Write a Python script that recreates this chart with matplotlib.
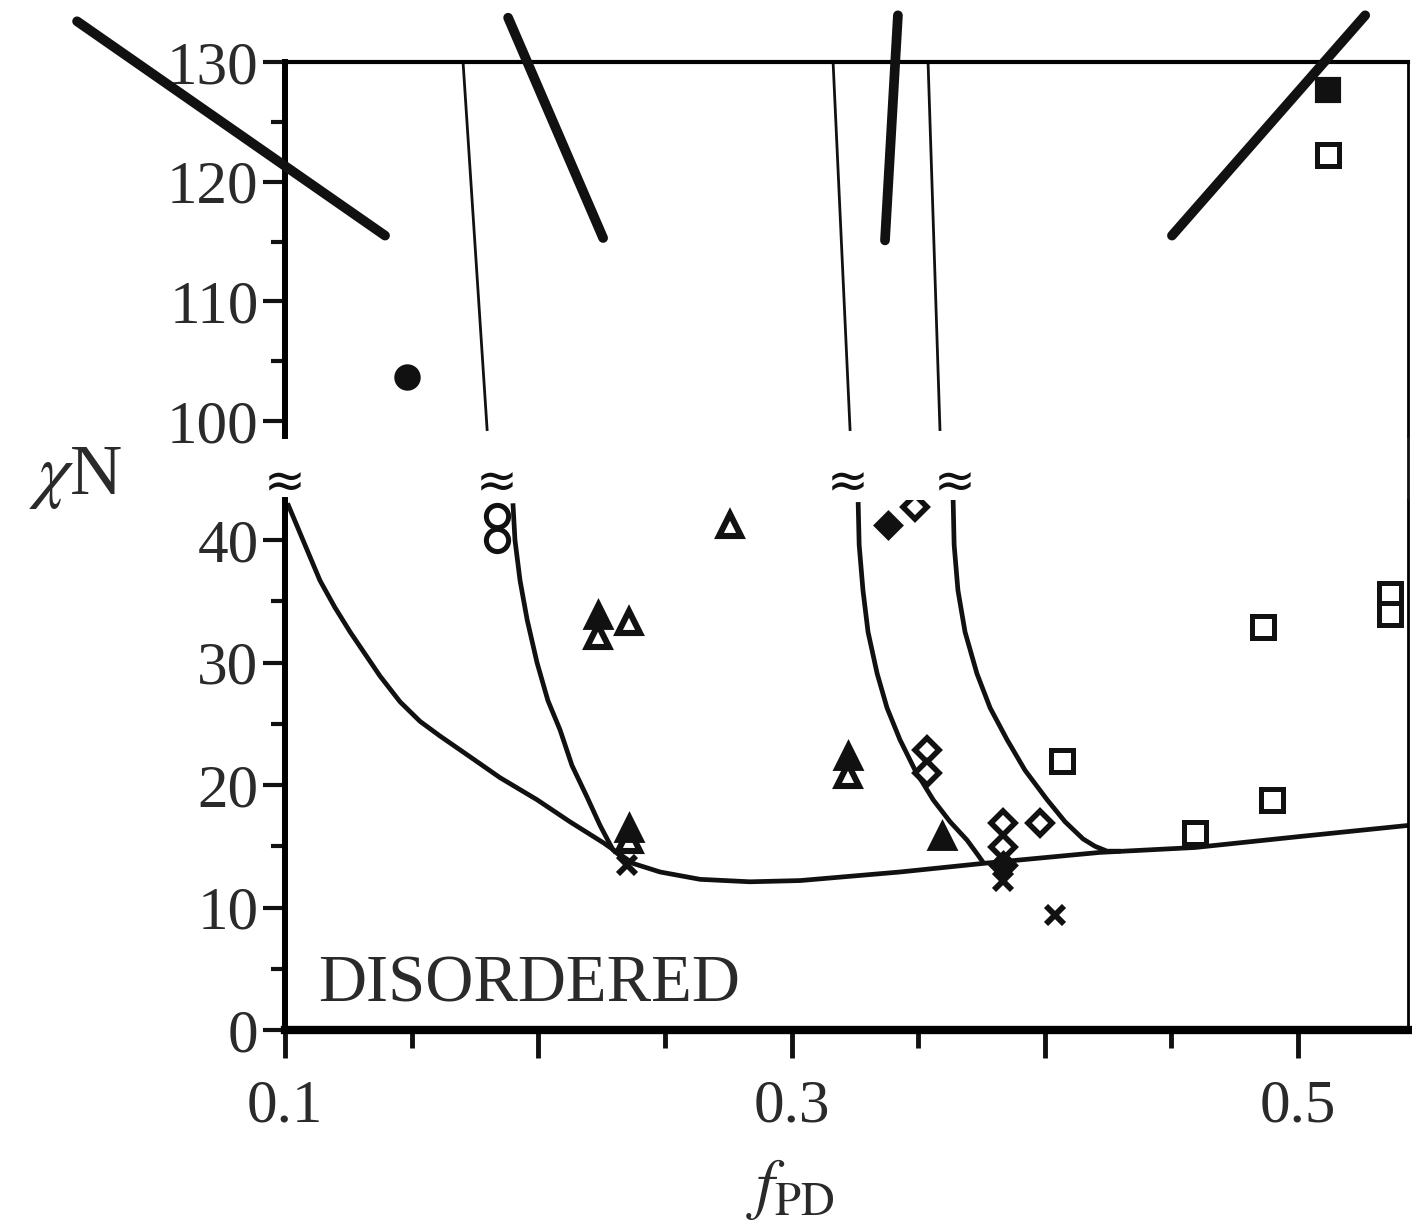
import matplotlib
matplotlib.use("Agg")
import matplotlib.pyplot as plt
from matplotlib.lines import Line2D
from matplotlib.ticker import FixedLocator, FixedFormatter

plt.rcParams['font.family'] = ['Liberation Serif', 'DejaVu Serif']
plt.rcParams['mathtext.fontset'] = 'stix'

# ---------------- data ----------------
# order-disorder boundary (lower panel)
odt_x = [0.101, 0.1079, 0.1138, 0.1197, 0.1257, 0.1316, 0.1375, 0.1454, 0.1533,
         0.1612, 0.1731, 0.1849, 0.1995, 0.2125, 0.2256, 0.2374, 0.2481, 0.2639,
         0.2836, 0.3034, 0.3428, 0.3756, 0.4218, 0.4593, 0.5008, 0.5434]
odt_y = [43.0, 39.6, 36.7, 34.5, 32.5, 30.7, 28.9, 26.8, 25.2,
         24.0, 22.3, 20.6, 18.8, 17.0, 15.3, 13.6, 12.9, 12.3,
         12.1, 12.2, 12.9, 13.6, 14.5, 14.9, 15.8, 16.7]
# phase boundaries (lower panel)
c1_x = [0.1900, 0.1908, 0.1928, 0.1956, 0.1995, 0.2038, 0.2086, 0.2133, 0.2193,
        0.2244, 0.2295, 0.2343]
c1_y = [43.0, 40.0, 36.7, 33.5, 30.0, 26.9, 24.5, 21.6, 19.0,
        16.7, 14.7, 13.9]
c2_x = [0.3263, 0.3267, 0.3282, 0.3302, 0.3338, 0.3377, 0.3428, 0.3488, 0.3559,
        0.3626, 0.3693, 0.3732, 0.3756]
c2_y = [43.1, 39.6, 35.9, 32.5, 29.1, 26.3, 23.7, 21.2, 18.8,
        17.0, 15.5, 14.4, 13.7]
c3_x = [0.3638, 0.3642, 0.3657, 0.3685, 0.3732, 0.3784, 0.3851, 0.3922, 0.4009,
        0.4080, 0.4151, 0.4198, 0.4246, 0.4300]
c3_y = [43.3, 39.6, 35.9, 32.5, 29.1, 26.3, 23.7, 21.2, 18.8,
        17.0, 15.6, 15.0, 14.6, 14.6]
# phase boundaries (upper panel, thin)
u1_x = [0.1703, 0.1798]; u1_y = [130.0, 99.3]
u2_x = [0.3164, 0.3231]; u2_y = [130.0, 99.3]
u3_x = [0.3539, 0.3586]; u3_y = [130.0, 99.3]
# strong-segregation limits (upper panel, thick)
tA_x = [0.0179, 0.1395]; tA_y = [133.4, 115.5]
tB_x = [0.1881, 0.2256]; tB_y = [133.7, 115.3]
tC_x = [0.3420, 0.3369]; tC_y = [133.9, 115.1]
tD_x = [0.5265, 0.4502]; tD_y = [133.9, 115.5]

# markers, lower panel
open_circ_x = [0.1837, 0.1837]; open_circ_y = [42.0, 40.0]
fill_tri_x = [0.2236, 0.2360, 0.3223, 0.3594]; fill_tri_y = [33.9, 16.5, 22.4, 15.8]
open_tri_x = [0.2236, 0.2360, 0.2757, 0.2360, 0.3223]
open_tri_y = [32.2, 33.3, 41.2, 15.5, 20.8]
cross_x = [0.2350, 0.3835, 0.4040]; cross_y = [13.5, 12.2, 9.4]
fill_dia_x = [0.3380, 0.3835]; fill_dia_y = [41.2, 13.5]
open_dia_x = [0.3488, 0.3535, 0.3535, 0.3835, 0.3835, 0.3980]
open_dia_y = [42.7, 22.9, 21.0, 16.9, 14.9, 16.9]
open_sq_x = [0.4068, 0.4593, 0.4897, 0.4862, 0.5363, 0.5363]
open_sq_y = [22.0, 16.1, 18.8, 32.9, 35.6, 34.0]
# markers, upper panel
fill_circ_up_x = [0.1482]; fill_circ_up_y = [103.7]
fill_sq_up_x = [0.5119]; fill_sq_up_y = [127.7]
open_sq_up_x = [0.5119]; open_sq_up_y = [122.2]

lower_major = [0, 10, 20, 30, 40]
lower_minor = [5, 15, 25, 35]
upper_major = [100, 110, 120, 130]
upper_minor = [105, 115, 125]
x_major = [0.1, 0.2, 0.3, 0.4, 0.5]
x_major_labels = ['0.1', '', '0.3', '', '0.5']
x_minor = [0.15, 0.25, 0.35, 0.45]
break_x = [0.1, 0.1837, 0.3223, 0.3645]

# ---------------- layout ----------------
W, H = 1412, 1222
fig = plt.figure(figsize=(W / 100, H / 100), dpi=100)
L, R = 285 / W, 1408 / W
ax_up = fig.add_axes([L, 1 - 436 / H, R - L, (436 - 62) / H])
ax_lo = fig.add_axes([L, 1 - 1030 / H, R - L, (1030 - 500) / H])

xlim = (0.1, 0.5434)
ax_up.set_xlim(*xlim); ax_lo.set_xlim(*xlim)
ax_up.set_ylim(98.76, 130.0)
ax_lo.set_ylim(0, 43.27)

ink = '#111111'
txt = '#2a2a2a'

for ax in (ax_up, ax_lo):
    ax.set_facecolor('none')
    ax.tick_params(axis='y', which='major', direction='out', length=16, width=3,
                   color=ink, labelsize=44, labelcolor=txt, pad=3)
    ax.tick_params(axis='y', which='minor', direction='out', length=10, width=3, color=ink)
    ax.spines['right'].set_linewidth(2)
    ax.spines['left'].set_linewidth(4.3)

ax_up.spines['bottom'].set_visible(False)
ax_up.spines['top'].set_linewidth(3)
ax_up.tick_params(axis='x', which='both', bottom=False, labelbottom=False)
ax_up.yaxis.set_major_locator(FixedLocator(upper_major))
ax_up.yaxis.set_minor_locator(FixedLocator(upper_minor))

ax_lo.spines['top'].set_visible(False)
ax_lo.spines['bottom'].set_linewidth(6)
ax_lo.yaxis.set_major_locator(FixedLocator(lower_major))
ax_lo.yaxis.set_minor_locator(FixedLocator(lower_minor))
ax_lo.xaxis.set_major_locator(FixedLocator(x_major))
ax_lo.xaxis.set_major_formatter(FixedFormatter(x_major_labels))
ax_lo.xaxis.set_minor_locator(FixedLocator(x_minor))
ax_lo.tick_params(axis='x', which='major', direction='out', length=20, width=3.5,
                  color=ink, labelsize=44, labelcolor=txt, pad=15)
ax_lo.tick_params(axis='x', which='minor', direction='out', length=13, width=3.5, color=ink)

# right border through the break
fig.add_artist(Line2D([R, R], [1 - 436 / H, 1 - 500 / H], color=ink, lw=2,
                      transform=fig.transFigure))

# ---------------- curves ----------------
lw_curve = 3.4
for xs, ys in [(odt_x, odt_y), (c1_x, c1_y), (c2_x, c2_y), (c3_x, c3_y)]:
    ax_lo.plot(xs, ys, color=ink, lw=lw_curve, solid_capstyle='butt',
               solid_joinstyle='round', zorder=2)
for xs, ys in [(u1_x, u1_y), (u2_x, u2_y), (u3_x, u3_y)]:
    ax_up.plot(xs, ys, color=ink, lw=2.0, zorder=2)
for xs, ys in [(tA_x, tA_y), (tB_x, tB_y), (tC_x, tC_y), (tD_x, tD_y)]:
    ax_up.plot(xs, ys, color=ink, lw=7, solid_capstyle='round', clip_on=False, zorder=3)

# ---------------- markers ----------------
ax_lo.plot(open_circ_x, open_circ_y, 'o', ms=16, mfc='white', mec=ink, mew=3.6, zorder=4)
ax_lo.plot(open_tri_x, open_tri_y, '^', ms=16, mfc='white', mec=ink, mew=4.4, zorder=4)
ax_lo.plot(fill_tri_x, fill_tri_y, '^', ms=17, mfc=ink, mec=ink, mew=3.5, zorder=5)
ax_lo.plot(cross_x, cross_y, 'x', ms=13, mec=ink, mew=4.2, zorder=5)
ax_lo.plot(open_dia_x, open_dia_y, 'D', ms=12.5, mfc='white', mec=ink, mew=4.0, zorder=4)
ax_lo.plot(fill_dia_x, fill_dia_y, 'D', ms=12.5, mfc=ink, mec=ink, mew=3.5, zorder=4)
ax_lo.plot(open_sq_x, open_sq_y, 's', ms=16, mfc='white', mec=ink, mew=3.6, zorder=4)
ax_up.plot(fill_circ_up_x, fill_circ_up_y, 'o', ms=16, mfc=ink, mec=ink, mew=3, zorder=4)
ax_up.plot(fill_sq_up_x, fill_sq_up_y, 's', ms=16, mfc=ink, mec=ink, mew=3, zorder=4)
ax_up.plot(open_sq_up_x, open_sq_up_y, 's', ms=16, mfc='white', mec=ink, mew=3.6, zorder=4)

# ---------------- break marks & text ----------------
for bx in break_x:
    ax_lo.text(bx, 44.6, '\u2248', fontsize=36, ha='center', va='center',
               color=ink, clip_on=False, family=['DejaVu Sans'])

ax_lo.text(0.113, 2.3, 'DISORDERED', fontsize=48, color=txt, ha='left', va='baseline')

fig.text(76 / W, 1 - 478 / H, r'$\chi$N', fontsize=52, color=txt, ha='center', va='center')
fig.text(790 / W, 1 - 1190 / H, r'$f_{\mathrm{PD}}$', fontsize=48, color=txt,
         ha='center', va='center')

fig.savefig('out.png', dpi=100)
